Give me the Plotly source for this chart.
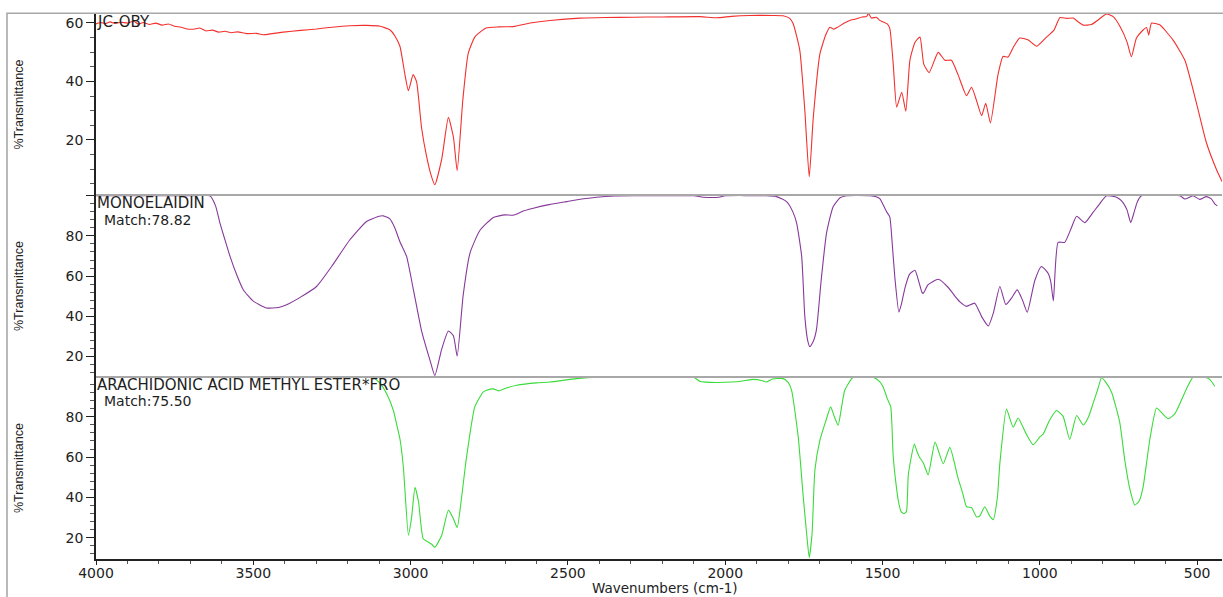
import plotly.graph_objects as go

# ---------------- spectra (wavenumber in cm-1, %Transmittance) ----------------
jc_wn = [
    4000, 3985, 3970, 3955, 3940, 3920, 3900, 3880, 3865, 3850,
    3830, 3810, 3790, 3770, 3750, 3730, 3710, 3690, 3670, 3650,
    3630, 3610, 3590, 3570, 3550, 3521, 3490, 3469, 3440, 3405,
    3350, 3299, 3250, 3193, 3140, 3097, 3066, 3050, 3034, 3018,
    3007, 2992, 2981, 2965, 2949, 2935, 2923, 2901, 2880, 2864,
    2852, 2834, 2817, 2795, 2760, 2720, 2674, 2620, 2557, 2462,
    2380, 2293, 2200, 2080, 2027, 1980, 1922, 1850, 1816, 1795,
    1784, 1763, 1747, 1733, 1720, 1699, 1680, 1667, 1655, 1641,
    1620, 1604, 1585, 1565, 1551, 1545, 1535, 1520, 1510, 1498,
    1485, 1477, 1466, 1455, 1439, 1426, 1413, 1397, 1381, 1369,
    1352, 1323, 1302, 1281, 1260, 1233, 1217, 1200, 1185, 1172,
    1157, 1133, 1117, 1101, 1085, 1064, 1038, 1010, 979, 955,
    936, 915, 894, 878, 862, 836, 812, 788, 766, 746,
    723, 709, 693, 675, 661, 654, 649, 645, 619, 576,
    539, 502, 471, 439, 421,
]
jc_t = [
    59.6, 60.1, 59.7, 60.3, 59.8, 60.2, 59.9, 60.5, 59.5, 60.1,
    59.4, 59.9, 59.2, 59.6, 58.8, 58.5, 57.9, 57.8, 58.2, 57.2,
    57.5, 56.8, 57.1, 56.6, 56.9, 56.3, 56.4, 55.9, 56.3, 56.8,
    57.4, 57.9, 58.5, 59.0, 59.1, 58.8, 57.6, 55.5, 52.0, 42.3,
    36.8, 42.3, 39.8, 24.0, 14.3, 8.0, 4.7, 13.5, 27.7, 21.0,
    9.5, 33.7, 49.5, 55.3, 58.2, 58.6, 58.7, 59.9, 60.8, 61.6,
    61.8, 61.9, 62.0, 62.1, 61.7, 62.2, 62.5, 62.5, 62.4, 61.5,
    59.7, 50.6, 30.1, 7.4, 27.8, 49.4, 56.0, 58.5, 57.8, 58.6,
    60.0, 60.8, 61.3, 62.0, 62.1, 63.2, 61.6, 61.9, 60.9, 60.3,
    59.6, 58.1, 45.9, 31.2, 36.3, 29.8, 47.2, 53.3, 55.1, 45.9,
    43.0, 49.9, 47.2, 47.2, 42.3, 35.1, 38.0, 33.0, 28.3, 32.5,
    25.8, 42.3, 48.5, 48.3, 51.5, 54.8, 54.2, 52.0, 55.1, 57.5,
    61.8, 61.5, 61.6, 60.3, 59.2, 59.4, 61.2, 63.0, 62.0, 58.9,
    53.5, 48.4, 54.8, 57.2, 58.4, 55.8, 58.5, 59.9, 59.3, 54.0,
    47.2, 32.5, 19.2, 10.0, 5.8,
]

mono_wn = [
    4000, 3800, 3700, 3638, 3620, 3606, 3590, 3574, 3550, 3532,
    3500, 3458, 3420, 3394, 3350, 3299, 3250, 3193, 3140, 3100,
    3087, 3066, 3050, 3034, 3013, 2992, 2965, 2939, 2923, 2901,
    2880, 2864, 2852, 2833, 2811, 2780, 2737, 2700, 2674, 2640,
    2610, 2560, 2504, 2450, 2409, 2350, 2293, 2100, 2070, 2020,
    2000, 1870, 1837, 1805, 1785, 1773, 1757, 1747, 1738, 1731,
    1720, 1710, 1695, 1678, 1657, 1635, 1614, 1540, 1520, 1508,
    1498, 1487, 1477, 1471, 1461, 1448, 1440, 1429, 1414, 1397,
    1386, 1375, 1371, 1355, 1323, 1291, 1270, 1254, 1233, 1207,
    1185, 1164, 1148, 1127, 1108, 1090, 1072, 1055, 1040, 1016,
    995, 973, 965, 957, 942, 921, 900, 883, 857, 831,
    810, 788, 760, 746, 735, 723, 711, 700, 690, 677,
    555, 539, 513, 492, 471, 455, 444, 436,
]
mono_t = [
    100, 100, 100, 100, 95, 86.4, 78, 69.8, 59.5, 53.2,
    47.5, 44.1, 44.3, 45.7, 49.5, 54.8, 65, 78.1, 87.2, 89.8,
    90.0, 88.5, 84, 77.1, 69.9, 53.9, 32.6, 18.4, 10.4, 23.7,
    32.6, 30.3, 20.1, 50.3, 71.6, 82.7, 89.2, 90.5, 90.3, 92.5,
    93.8, 95.6, 97.1, 98.5, 99.3, 99.9, 100, 100, 99.3, 99.3,
    100, 100, 99.6, 97.1, 92, 86.4, 69.8, 39.9, 28, 24.8,
    27.5, 33.3, 58, 81.4, 94.6, 99, 100, 100, 99.5, 98.5,
    95.5, 92, 89.5, 80, 59.5, 42.0, 46, 53.9, 61, 62.9,
    58, 52, 51.3, 55.7, 58.4, 54.3, 50, 47.1, 44.9, 46.5,
    39.8, 35.1, 41.5, 54.8, 45.8, 49, 53.1, 48, 42.0, 57.8,
    64.8, 61.2, 57, 47.6, 76.8, 76.8, 84, 89.8, 86.6, 91.7,
    96, 100, 99.5, 98.3, 96.5, 93, 86.7, 92, 97, 100,
    100, 98.4, 100, 98.2, 99.6, 98.5, 96, 95,
]

ara_wn = [
    4000, 3500, 3200, 3120, 3097, 3075, 3055, 3044, 3034, 3023,
    3007, 2997, 2986, 2975, 2960, 2944, 2933, 2923, 2901, 2880,
    2864, 2852, 2838, 2824, 2808, 2796, 2769, 2758, 2737, 2721,
    2690, 2663, 2600, 2557, 2472, 2400, 2293, 2200, 2100, 2080,
    2030, 1980, 1950, 1912, 1885, 1869, 1850, 1816, 1800, 1789,
    1768, 1752, 1740, 1733, 1724, 1715, 1699, 1680, 1665, 1653,
    1641, 1630, 1620, 1593, 1530, 1510, 1498, 1485, 1474, 1466,
    1455, 1450, 1441, 1432, 1424, 1418, 1399, 1391, 1383, 1370,
    1355, 1333, 1307, 1286, 1260, 1245, 1233, 1217, 1201, 1191,
    1175, 1160, 1148, 1135, 1127, 1106, 1085, 1069, 1045, 1021,
    1000, 989, 970, 947, 926, 905, 883, 862, 845, 831,
    815, 804, 790, 772, 746, 730, 714, 698, 685, 672,
    650, 629, 610, 592, 571, 534, 513, 476, 460, 444,
]
ara_t = [
    100, 100, 100, 99.5, 96.5, 91, 83.2, 76, 69.1, 55,
    21.3, 30, 45.0, 38, 19.5, 17.9, 16.8, 15.3, 21.3, 33.7,
    29.5, 25.1, 40, 58, 75, 84.9, 92.3, 93.1, 93.8, 92.8,
    94.5, 95.6, 96.8, 97.2, 98.9, 99.6, 99.8, 99.8, 99.6, 97.5,
    97, 97.2, 97.6, 98.5, 98.0, 97.2, 98.7, 98.9, 97, 93.1,
    70.0, 40.3, 20, 10.2, 22, 53.5, 68.4, 78, 84.9, 80,
    75.8, 85, 93.1, 99.6, 99.6, 97.5, 94.8, 89, 85.0, 60.2,
    44, 38.5, 33, 31.9, 33, 51.4, 66.5, 63, 60.1, 57,
    51.2, 67.4, 56.7, 64.8, 49.6, 42, 35.4, 35.0, 30.3, 30.8,
    35.4, 31, 29.0, 40, 57, 83.8, 74.8, 79.4, 72, 66.1,
    70, 71.5, 78, 83.1, 80.2, 68.8, 80.6, 75.9, 80, 86.5,
    94, 99.3, 97, 92.1, 77.2, 58.5, 44.3, 36.3, 38, 45,
    69.1, 84.3, 81.5, 79, 81.4, 93.8, 99.6, 99.6, 98.5, 95.1,
]

panel_names = ["JC-OBY", "MONOELAIDIN", "ARACHIDONIC ACID METHYL ESTER*FRO"]
match_labels = [None, "Match:78.82", "Match:75.50"]

# ---------------- layout geometry ----------------
W, H = 1223, 597
ML, MR, MT, MB = 96, 1, 14, 38
PW = W - ML - MR
PH = H - MT - MB
bottom_px = H - MB
bounds_px = [14, 195, 377, 559]          # panel edges, top to bottom


def py(px_y):
    return (bottom_px - px_y) / PH


def pxx(px_x):
    return (px_x - ML) / PW


domains = [[py(bounds_px[i + 1]), py(bounds_px[i])] for i in range(3)]
domains[0][1] = 1.0
domains[2][0] = 0.0

colors = ["#F2302E", "#86399A", "#3ADB3A"]
series = [(jc_wn, jc_t), (mono_wn, mono_t), (ara_wn, ara_t)]
yaxes = ["y", "y2", "y3"]

fig = go.Figure()
for (wn, t), c, ya in zip(series, colors, yaxes):
    fig.add_trace(go.Scatter(x=wn, y=t, mode="lines", xaxis="x", yaxis=ya,
                             line=dict(color=c, width=1.1, shape="spline",
                                       smoothing=0.5),
                             hoverinfo="skip", showlegend=False))

axis_col = "#222222"
tick_font = dict(family="DejaVu Sans", size=14, color="#222222")
minor_style = dict(ticks="outside", tickwidth=1, tickcolor="#555555",
                   showgrid=False)


def yaxis(domain, rng, minor_step):
    return dict(domain=domain, range=rng, anchor="x", tickmode="linear",
                tick0=0, dtick=20, ticks="outside", ticklen=8, tickwidth=1.2,
                tickcolor=axis_col, showline=True, linecolor=axis_col,
                linewidth=1.6, showgrid=False, zeroline=False,
                tickfont=tick_font, labelalias={"100": " "},
                minor=dict(tickmode="linear", tick0=0, dtick=minor_step,
                           ticklen=4, **minor_style))


fig.update_layout(
    width=W, height=H,
    margin=dict(l=ML, r=MR, t=MT, b=MB),
    paper_bgcolor="white", plot_bgcolor="white",
    xaxis=dict(domain=[0, 1], range=[4000, 421], anchor="y3",
               tickmode="linear", tick0=0, dtick=500, ticks="outside",
               ticklen=4, tickwidth=1.2, tickcolor=axis_col,
               showline=True, linecolor=axis_col, linewidth=1.6,
               showgrid=False, zeroline=False, tickfont=tick_font,
               ticklabelstandoff=-4,
               minor=dict(tickmode="linear", tick0=0, dtick=100,
                          ticklen=3, **minor_style)),
    yaxis=yaxis(domains[0], [1.2, 63.0], 5),
    yaxis2=yaxis(domains[1], [9.7, 100.4], 4),
    yaxis3=yaxis(domains[2], [9.5, 99.7], 4),
)

shapes = [
    # outer frame
    dict(type="rect", xref="paper", yref="paper",
         x0=pxx(7), x1=pxx(1240), y0=py(620), y1=py(13.3),
         line=dict(color="#A8A8A8", width=1.6), layer="above"),
]
for b in bounds_px[1:3]:
    shapes.append(dict(type="line", xref="paper", yref="paper",
                       x0=0, x1=1, y0=py(b), y1=py(b),
                       line=dict(color="#A8A8A8", width=2), layer="above"))
fig.update_layout(shapes=shapes)

ann = []
name_font = dict(family="DejaVu Sans", size=15, color="#1E1E1E")
match_font = dict(family="DejaVu Sans", size=14, color="#1E1E1E")
name_y_px = [21.5, 202.5, 384.5]
match_y_px = [None, 219.5, 401]
for i in range(3):
    ann.append(dict(text=panel_names[i], xref="paper", yref="paper",
                    x=pxx(96), y=py(name_y_px[i]), xanchor="left",
                    yanchor="middle", showarrow=False, font=name_font,
                    borderpad=0))
    if match_labels[i]:
        ann.append(dict(text=match_labels[i], xref="paper", yref="paper",
                        x=pxx(103), y=py(match_y_px[i]), xanchor="left",
                        yanchor="middle", showarrow=False, font=match_font,
                        borderpad=0))
    mid = (bounds_px[i] + bounds_px[i + 1]) / 2
    ann.append(dict(text="%Transmittance", xref="paper", yref="paper",
                    x=pxx(19), y=py(mid), xanchor="center", yanchor="middle",
                    textangle=-90, showarrow=False,
                    font=dict(family="Liberation Sans", size=12.5,
                              color="#222222")))

ann.append(dict(text="Wavenumbers (cm-1)", xref="paper", yref="paper",
                x=pxx(665), y=py(588), xanchor="center", yanchor="middle",
                showarrow=False, borderpad=0,
                font=dict(family="DejaVu Sans", size=13.5, color="#222222")))
fig.update_layout(annotations=ann)

fig.write_html("out.html")
